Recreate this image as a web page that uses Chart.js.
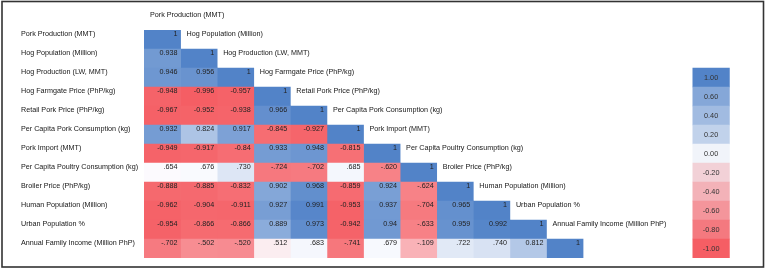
<!DOCTYPE html>
<html lang="en">
<head>
<meta charset="UTF-8">
<title>Pork Correlation Matrix</title>
<style>
  body { margin: 0; background: #fff; }
  #wrap { position: relative; width: 766px; height: 271px; }
</style>
</head>
<body>
<div id="wrap"><canvas id="corrChart" width="766" height="271"></canvas></div>
<script src="https://cdn.jsdelivr.net/npm/chart.js"></script>
<script>
// variables, in matrix order
const variables = [
  'Pork Production (MMT)',
  'Hog Population (Million)',
  'Hog Production (LW, MMT)',
  'Hog Farmgate Price (PhP/kg)',
  'Retail Pork Price (PhP/kg)',
  'Per Capita Pork Consumption (kg)',
  'Pork Import (MMT)',
  'Per Capita Poultry Consumption (kg)',
  'Broiler Price (PhP/kg)',
  'Human Population (Million)',
  'Urban Population %',
  'Annual Family Income (Million PhP)'
];

// lower triangle, one row per variable (kept as printed)
const rowPorkProduction = ['1'];
const rowHogPopulation = ['0.938', '1'];
const rowHogProduction = ['0.946', '0.956', '1'];
const rowHogFarmgate = ['-0.948', '-0.996', '-0.957', '1'];
const rowRetailPork = ['-0.967', '-0.952', '-0.938', '0.966', '1'];
const rowPorkConsumption = ['0.932', '0.824', '0.917', '-0.845', '-0.927', '1'];
const rowPorkImport = ['-0.949', '-0.917', '-0.84', '0.933', '0.948', '-0.815', '1'];
const rowPoultryConsumption = ['.654', '.676', '.730', '-.724', '-.702', '.685', '-.620', '1'];
const rowBroilerPrice = ['-0.888', '-0.885', '-0.832', '0.902', '0.968', '-0.859', '0.924', '-.624', '1'];
const rowHumanPopulation = ['-0.962', '-0.904', '-0.911', '0.927', '0.991', '-0.953', '0.937', '-.704', '0.965', '1'];
const rowUrbanPopulation = ['-0.954', '-0.866', '-0.866', '0.889', '0.973', '-0.942', '0.94', '-.633', '0.959', '0.992', '1'];
const rowFamilyIncome = ['-.702', '-.502', '-.520', '.512', '.683', '-.741', '.679', '-.109', '.722', '.740', '0.812', '1'];

// colour key
const scaleTicks = ['1.00', '0.60', '0.40', '0.20', '0.00', '-0.20', '-0.40', '-0.60', '-0.80', '-1.00'];

const rows = [rowPorkProduction, rowHogPopulation, rowHogProduction, rowHogFarmgate, rowRetailPork,
  rowPorkConsumption, rowPorkImport, rowPoultryConsumption, rowBroilerPrice, rowHumanPopulation,
  rowUrbanPopulation, rowFamilyIncome];

const blue = [82, 131, 200];
const white = [252, 252, 255];
const keyWhite = [241, 244, 250];
const red = [245, 94, 100];

function mix(a, b, t) {
  t = Math.max(0, Math.min(1, t));
  return 'rgb(' + a.map((c, i) => Math.round(c + (b[i] - c) * t)).join(',') + ')';
}

// 3-colour scale, white point sits around the middle of the values
function cellColor(v, mid) {
  if (v >= mid) return mix(white, blue, (v - mid) / (1 - mid));
  return mix(white, red, (mid - v) / (mid + 1));
}

function keyColor(v) {
  if (v >= 0) return mix(keyWhite, blue, Math.pow(v, 0.75));
  return mix(keyWhite, red, Math.pow(-v, 0.9));
}

const datasets = [];
for (let j = 0; j < variables.length; j++) {
  const data = [];
  for (let i = j; i < rows.length; i++) {
    data.push({ x: [j, j + 1], y: variables[i], v: parseFloat(rows[i][j]), t: rows[i][j] });
  }
  datasets.push({ data: data });
}
// colour key column
datasets.push({
  data: scaleTicks.map((t, k) => ({ x: [15, 16], y: variables[k + 2], v: parseFloat(t), t: t, key: true }))
});

datasets.forEach(ds => {
  ds.backgroundColor = c => c.raw.key ? keyColor(c.raw.v) : cellColor(c.raw.v, 0.67);
  ds.borderWidth = 0;
  ds.grouped = false;
  ds.barPercentage = 1;
  ds.categoryPercentage = 1;
});

const textPlugin = {
  id: 'cellText',
  afterDatasetsDraw(chart) {
    const ctx = chart.ctx;
    const xs = chart.scales.x, ys = chart.scales.y;
    const rowH = ys.getPixelForValue(1) - ys.getPixelForValue(0);
    ctx.save();
    ctx.fillStyle = '#161616';
    ctx.font = '7.2px "Liberation Sans", Arial, sans-serif';
    ctx.textBaseline = 'middle';
    ctx.textAlign = 'left';
    variables.forEach((name, i) => {
      ctx.fillText(name, 21, ys.getPixelForValue(i) - 5);
      // column names run down the diagonal
      ctx.fillText(name, xs.getPixelForValue(i) + 6, ys.getPixelForValue(i) - rowH - 5);
    });
    chart.data.datasets.forEach((ds, d) => {
      const meta = chart.getDatasetMeta(d);
      meta.data.forEach((el, k) => {
        const raw = ds.data[k];
        if (raw.key) {
          ctx.textAlign = 'center';
          ctx.font = '7.3px "Liberation Sans", Arial, sans-serif';
          ctx.fillStyle = '#333';
          ctx.fillText(raw.t, (el.x + el.base) / 2, el.y + 0.5);
        } else {
          ctx.textAlign = 'right';
          ctx.font = '7.2px "Liberation Sans", Arial, sans-serif';
          ctx.fillStyle = '#222';
          ctx.fillText(raw.t, el.x - 3, el.y - 5);
        }
      });
    });
    // outer frame
    ctx.strokeStyle = '#333';
    ctx.lineWidth = 1.6;
    ctx.strokeRect(2, 1.5, 761.5, 265.5);
    ctx.restore();
  }
};

new Chart(document.getElementById('corrChart'), {
  type: 'bar',
  data: { labels: variables, datasets: datasets },
  options: {
    indexAxis: 'y',
    responsive: false,
    animation: false,
    devicePixelRatio: 1,
    layout: { padding: { left: 144, right: 0, top: 30, bottom: 13 } },
    scales: {
      x: { type: 'linear', min: 0, max: 17, display: false },
      y: { type: 'category', offset: true, display: false }
    },
    plugins: {
      legend: { display: false },
      tooltip: { enabled: false }
    }
  },
  plugins: [textPlugin]
});
</script>
</body>
</html>
